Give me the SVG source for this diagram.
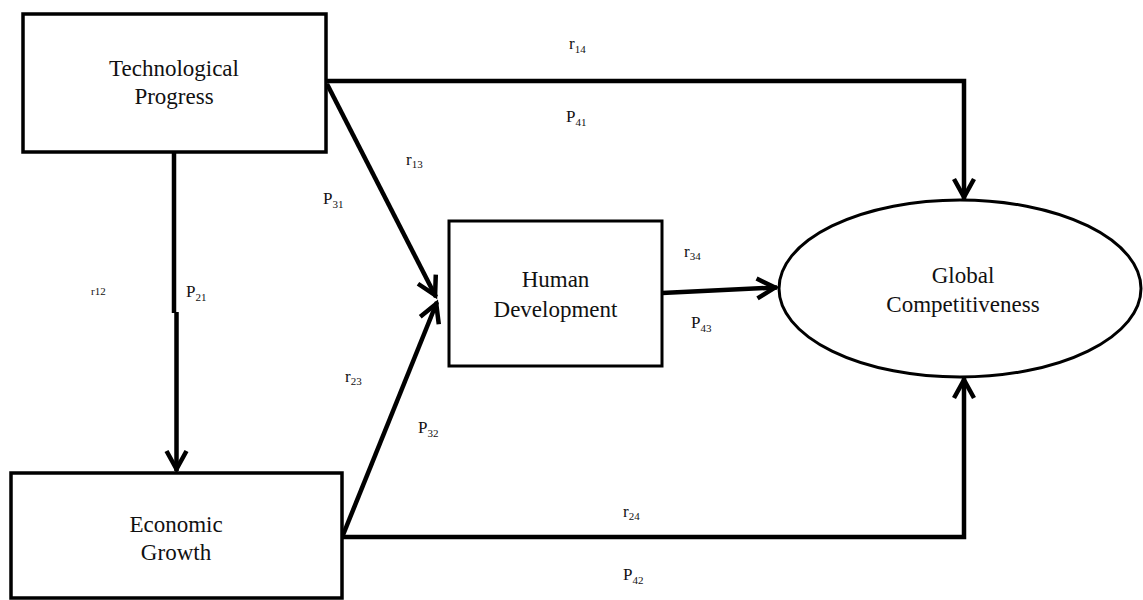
<svg xmlns="http://www.w3.org/2000/svg" width="1143" height="600" viewBox="0 0 1143 600">
  <style>
    .box { fill: #fff; stroke: #000; stroke-width: 3.5; }
    .node-text { font-size: 23px; fill: #111; text-anchor: middle; }
    .lbl { font-size: 17px; fill: #111; }
    .small { font-size: 11px; fill: #111; }
    .sub { font-size: 11px; }
    .conn { fill: none; stroke: #000; stroke-width: 4.5; marker-end: url(#arrow); }
  </style>
  <defs>
    <marker id="arrow" markerUnits="userSpaceOnUse" viewBox="-26 -14 30 28" markerWidth="30" markerHeight="28" refX="0" refY="0" orient="auto">
      <path d="M-20,-10 L-2,0 L-20,10" fill="none" stroke="#000" stroke-width="4.5" stroke-linejoin="miter"/>
    </marker>
  </defs>

  <rect width="1143" height="600" fill="#fff"/>

  <!-- path connectors -->
  <g id="connectors">
    <path class="conn" d="M174,152 V313 M176.5,312 V471"/>
    <path class="conn" d="M326,81 H964 V199"/>
    <path class="conn" d="M342,537 H964 V378"/>
    <path class="conn" d="M327,84 L436,297"/>
    <path class="conn" d="M343,535 L437,302"/>
    <path class="conn" d="M662,293 L777,287.5"/>
  </g>

  <g font-family="Liberation Serif, serif">
    <!-- nodes -->
    <g id="technological-progress">
      <rect class="box" x="23" y="14" width="303" height="138"/>
      <text class="node-text" x="174" y="76">Technological</text>
      <text class="node-text" x="174" y="104">Progress</text>
    </g>

    <g id="economic-growth">
      <rect class="box" x="11" y="473" width="331" height="125"/>
      <text class="node-text" x="176" y="532">Economic</text>
      <text class="node-text" x="176" y="560">Growth</text>
    </g>

    <g id="human-development">
      <rect class="box" x="449" y="221" width="213" height="145" style="stroke-width:3"/>
      <text class="node-text" x="555.5" y="287">Human</text>
      <text class="node-text" x="555.5" y="317">Development</text>
    </g>

    <g id="global-competitiveness">
      <ellipse cx="960" cy="288.5" rx="181" ry="88.5" fill="#fff" stroke="#000" stroke-width="3"/>
      <text class="node-text" x="963" y="283">Global</text>
      <text class="node-text" x="963" y="312">Competitiveness</text>
    </g>

    <!-- coefficient labels -->
    <g id="labels">
      <text class="lbl" x="569" y="49">r<tspan class="sub" dy="4">14</tspan></text>
      <text class="lbl" x="566" y="122">P<tspan class="sub" dy="4">41</tspan></text>
      <text class="lbl" x="406" y="165">r<tspan class="sub" dy="3">13</tspan></text>
      <text class="lbl" x="323" y="204">P<tspan class="sub" dy="4">31</tspan></text>
      <text class="small" x="91" y="295">r12</text>
      <text class="lbl" x="186" y="297">P<tspan class="sub" dy="4">21</tspan></text>
      <text class="lbl" x="684" y="257">r<tspan class="sub" dy="3">34</tspan></text>
      <text class="lbl" x="691" y="328">P<tspan class="sub" dy="4">43</tspan></text>
      <text class="lbl" x="345" y="382">r<tspan class="sub" dy="3">23</tspan></text>
      <text class="lbl" x="418" y="433">P<tspan class="sub" dy="4">32</tspan></text>
      <text class="lbl" x="623" y="517">r<tspan class="sub" dy="3">24</tspan></text>
      <text class="lbl" x="623" y="580">P<tspan class="sub" dy="4">42</tspan></text>
    </g>
  </g>
</svg>
